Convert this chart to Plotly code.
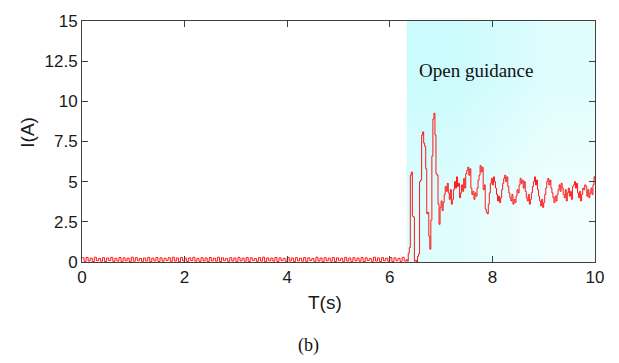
import numpy as np
import plotly.graph_objects as go

# Motor current record, sampled before guidance (every 0.04 s) and after (every 0.02 s)
dt_pre = 0.04
current_pre = [
    0.26, 0.04, 0.28, 0.06, 0.24, 0.02, 0.30, 0.08, 0.22, 0.05,
    0.27, 0.03, 0.25, 0.09, 0.29, 0.04, 0.23, 0.06, 0.28, 0.02,
    0.26, 0.07, 0.24, 0.03, 0.30, 0.05, 0.27, 0.08, 0.22, 0.04,
    0.25, 0.06, 0.29, 0.02, 0.24, 0.07, 0.28, 0.03, 0.26, 0.05,
    0.23, 0.09, 0.27, 0.04, 0.30, 0.06, 0.25, 0.02, 0.28, 0.07,
    0.24, 0.03, 0.26, 0.08, 0.29, 0.05, 0.22, 0.04, 0.27, 0.06,
    0.25, 0.02, 0.28, 0.07, 0.24, 0.05, 0.30, 0.03, 0.26, 0.08,
    0.23, 0.04, 0.27, 0.06, 0.25, 0.02, 0.29, 0.07, 0.24, 0.05,
    0.28, 0.03, 0.26, 0.09, 0.22, 0.04, 0.27, 0.06, 0.30, 0.02,
    0.25, 0.07, 0.24, 0.05, 0.28, 0.03, 0.26, 0.08, 0.23, 0.04,
    0.29, 0.06, 0.25, 0.02, 0.27, 0.07, 0.24, 0.05, 0.28, 0.03,
    0.26, 0.09, 0.22, 0.04, 0.30, 0.06, 0.25, 0.02, 0.27, 0.07,
    0.24, 0.05, 0.28, 0.03, 0.26, 0.08, 0.23, 0.04, 0.29, 0.06,
    0.25, 0.02, 0.27, 0.07, 0.24, 0.05, 0.28, 0.03, 0.26, 0.09,
    0.22, 0.04, 0.30, 0.06, 0.25, 0.02, 0.27, 0.07, 0.24, 0.05,
    0.28, 0.03, 0.26, 0.08, 0.23, 0.04, 0.29, 0.06,
]

t_post_start = 6.32
dt_post = 0.02
current_post = [
    0.15, 0.05, 0.55, 0.9, 5.4, 5.6, 2.85, 2.8, 0.05, 0.1,
    0.0, 0.35, 0.5, 5.0, 5.1, 7.9, 8.1, 7.4, 7.2, 5.8,
    3.0, 3.1, 1.6, 0.8, 2.6, 6.6, 8.9, 9.26, 7.9, 5.5,
    5.4, 3.6, 2.35, 3.4, 3.8, 3.2, 3.7, 4.2, 4.7, 4.4,
    4.9, 4.3, 3.9, 4.5, 3.6, 3.9, 4.5, 5.0, 4.6, 5.3,
    4.7, 4.9, 4.0, 4.3, 4.8, 4.4, 5.2, 4.6, 5.5, 5.7,
    5.9, 5.4, 5.8, 4.6, 4.2, 4.4, 3.9, 4.3, 4.1, 4.6,
    5.1, 5.4, 6.0, 5.6, 5.9, 4.5, 4.8, 3.3, 3.1, 3.0,
    3.6, 4.3, 4.9, 5.2, 4.8, 5.3, 5.0, 4.6, 4.2, 3.8,
    4.1, 3.7, 4.0, 4.5, 4.9, 5.2, 5.4, 5.0, 5.3, 4.7,
    4.3, 4.0, 3.8, 4.2, 3.6, 3.9, 3.7, 4.1, 4.5, 4.3,
    4.8, 5.2, 4.9, 5.1, 4.6, 5.0, 4.4, 4.0, 3.8, 4.2,
    3.6, 3.9, 4.3, 4.7, 5.0, 5.3, 4.8, 5.1, 4.5, 4.1,
    3.8, 3.5, 3.9, 3.4, 3.7, 4.2, 4.6, 5.0, 5.2, 4.8,
    5.1, 4.6, 4.3, 4.0, 3.7, 4.1, 3.8, 4.2, 4.5, 4.8,
    4.4, 4.9, 4.6, 4.2, 4.0, 4.5, 3.8, 4.3, 4.6, 4.1,
    4.4, 3.9, 4.7, 4.8, 5.0, 4.6, 4.9, 4.3, 4.0, 4.4,
    3.8, 4.2, 4.6, 4.5, 4.8, 4.7, 4.1, 4.5, 4.0, 4.3,
    4.6, 4.2, 4.8, 5.3, 5.1,
]

guidance_start = 6.33
x_range = [0, 10]
y_range = [0, 15]
x_ticks = [0, 2, 4, 6, 8, 10]
y_ticks = [0, 2.5, 5, 7.5, 10, 12.5, 15]
y_ticklabels = ["0", "2.5", "5", "7.5", "10", "12.5", "15"]

t_pre = np.arange(len(current_pre)) * dt_pre
t_post = t_post_start + np.arange(len(current_post)) * dt_post
t = np.concatenate([t_pre, t_post])
current = np.concatenate([current_pre, current_post])

fig = go.Figure()

# Shaded "open guidance" interval: diagonal cyan-to-white wash
fig.add_trace(go.Heatmap(
    x=[guidance_start, (guidance_start + x_range[1]) / 2, x_range[1]],
    y=[y_range[0], 7.5, y_range[1]],
    z=[[0.5, 1.0], [0.0, 0.5]],
    zsmooth="best",
    colorscale=[[0, "#cbfbfc"], [1, "#f2fefe"]],
    zmin=0, zmax=1,
    showscale=False,
    hoverinfo="skip",
))

fig.add_trace(go.Scatter(
    x=t, y=current,
    mode="lines",
    line=dict(color="#ff0000", width=0.9, shape="hv"),
    showlegend=False,
))

axis_common = dict(
    showgrid=False,
    zeroline=False,
    showline=True,
    linecolor="#404040",
    linewidth=1,
    mirror="ticks",
    ticks="inside",
    ticklen=6,
    tickcolor="#404040",
    tickfont=dict(family="Liberation Sans, Arial, sans-serif", size=17, color="#1a1a1a"),
)

fig.update_layout(
    width=619, height=363,
    margin=dict(l=82, r=24, t=16, b=101),
    paper_bgcolor="white",
    plot_bgcolor="white",
    showlegend=False,
    xaxis=dict(range=x_range, tickvals=x_ticks, **axis_common),
    yaxis=dict(range=y_range, tickvals=y_ticks, ticktext=y_ticklabels, **axis_common),
    annotations=[
        dict(text="Open guidance", x=guidance_start + 0.2, y=11.95, xref="x", yref="y",
             xanchor="left", yanchor="middle", showarrow=False,
             font=dict(family="Liberation Serif, Times New Roman, serif", size=19, color="#111111")),
        dict(text="I(A)", x=28, y=130, showarrow=False,
             textangle=-90, font=dict(family="Liberation Sans, Arial, sans-serif", size=19, color="#1a1a1a")),
        dict(text="T(s)", x=325, y=303, showarrow=False,
             font=dict(family="Liberation Sans, Arial, sans-serif", size=19, color="#1a1a1a")),
        dict(text="(b)", x=308, y=347, showarrow=False,
             font=dict(family="Liberation Serif, Times New Roman, serif", size=18, color="#111111")),
    ],
)

# Position the free-standing labels in pixel space of the 619x363 page
plot_w = 619 - 82 - 24
plot_h = 363 - 16 - 101
for ann in fig.layout.annotations[1:]:
    px, py = ann.x, ann.y
    ann.xref = "paper"
    ann.yref = "paper"
    ann.x = (px - 82) / plot_w
    ann.y = (363 - 101 - py) / plot_h
    ann.xanchor = "center"
    ann.yanchor = "middle"

fig.write_html("out.html")
